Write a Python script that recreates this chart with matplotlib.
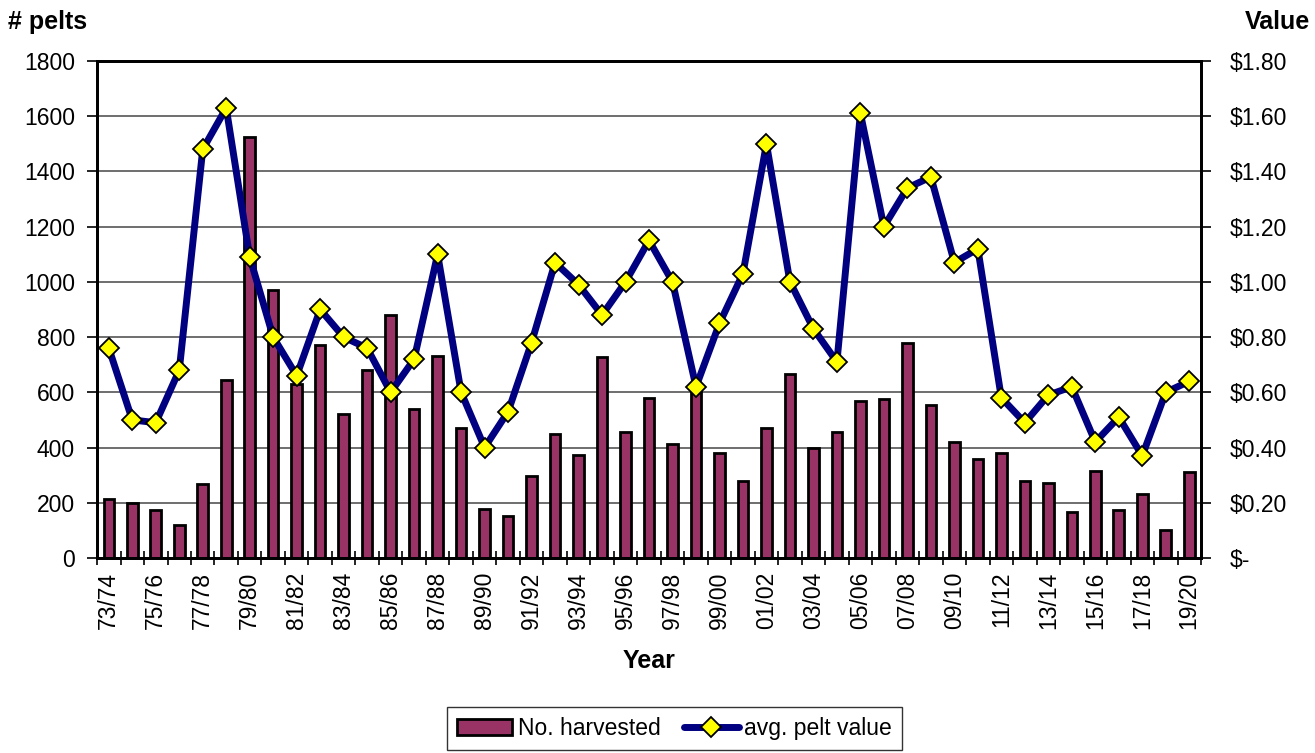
import matplotlib.pyplot as plt
from matplotlib.ticker import FuncFormatter, MultipleLocator
import numpy as np

plt.rcParams['font.family'] = ['Liberation Sans', 'DejaVu Sans']

seasons = ['73/74', '74/75', '75/76', '76/77', '77/78', '78/79', '79/80', '80/81',
           '81/82', '82/83', '83/84', '84/85', '85/86', '86/87', '87/88', '88/89',
           '89/90', '90/91', '91/92', '92/93', '93/94', '94/95', '95/96', '96/97',
           '97/98', '98/99', '99/00', '00/01', '01/02', '02/03', '03/04', '04/05',
           '05/06', '06/07', '07/08', '08/09', '09/10', '10/11', '11/12', '12/13',
           '13/14', '14/15', '15/16', '16/17', '17/18', '18/19', '19/20']

harvested = [215, 200, 175, 118, 268, 645, 1525, 970, 630, 770, 520, 680, 880,
             540, 730, 470, 178, 152, 298, 450, 372, 728, 458, 580, 412, 610,
             380, 280, 472, 668, 400, 458, 570, 575, 780, 555, 420, 360, 380,
             278, 270, 168, 316, 175, 232, 103, 313]

pelt_value = [0.76, 0.50, 0.49, 0.68, 1.48, 1.63, 1.09, 0.80, 0.66, 0.90, 0.80,
              0.76, 0.60, 0.72, 1.10, 0.60, 0.40, 0.53, 0.78, 1.07, 0.99, 0.88,
              1.00, 1.15, 1.00, 0.62, 0.85, 1.03, 1.50, 1.00, 0.83, 0.71, 1.61,
              1.20, 1.34, 1.38, 1.07, 1.12, 0.58, 0.49, 0.59, 0.62, 0.42, 0.51,
              0.37, 0.60, 0.64]

x = np.arange(len(seasons))
fs = 16.5

fig = plt.figure(figsize=(13.15, 7.53), dpi=100)
ax = fig.add_axes([0.0738, 0.259, 0.8395, 0.66])
ax2 = ax.twinx()

bars = ax.bar(x, harvested, width=0.45, color='#993366', edgecolor='black',
              linewidth=2, label='No. harvested', zorder=2)
ax.set_ylim(0, 1800)
ax.set_xlim(-0.5, len(seasons) - 0.5)
ax.yaxis.set_major_locator(MultipleLocator(200))
ax.grid(axis='y', color='#555555', linewidth=1.2, zorder=0)
ax.set_axisbelow(True)

line, = ax2.plot(x, pelt_value, color='#000080', linewidth=5, marker='D',
                 markersize=10, markerfacecolor='#FFFF00', markeredgecolor='black',
                 markeredgewidth=1.3, solid_capstyle='round',
                 label='avg. pelt value', zorder=3)
ax2.set_ylim(0, 1.8)
ax2.yaxis.set_major_locator(MultipleLocator(0.2))
ax2.yaxis.set_major_formatter(FuncFormatter(lambda v, p: '$-' if abs(v) < 1e-9 else f'${v:.2f}'))

# labels on every other season, ticks between categories
ax.set_xticks(x[::2])
ax.set_xticklabels(seasons[::2], rotation=90)
ax.set_xticks(np.arange(-0.5, len(seasons)), minor=True)
ax.tick_params(axis='x', which='major', length=0, labelsize=fs, pad=10)
ax.tick_params(axis='x', which='minor', length=10, width=1.2, direction='inout')
ax.tick_params(axis='y', labelsize=fs, length=7, width=1.2, pad=9)
ax2.tick_params(axis='y', labelsize=fs, length=7, width=1.2, pad=14)

for a in (ax, ax2):
    for s in a.spines.values():
        s.set_linewidth(2)

ax.set_xlabel('Year', fontsize=18, fontweight='bold', labelpad=14)
fig.text(0.006, 0.971, '# pelts', fontsize=18, fontweight='bold', ha='left', va='center')
fig.text(0.996, 0.971, 'Value', fontsize=18, fontweight='bold', ha='right', va='center')

leg = fig.legend([bars, line], ['No. harvested', 'avg. pelt value'], loc='center',
                 bbox_to_anchor=(0.513, 0.0325), ncol=2, fontsize=fs, frameon=True,
                 fancybox=False, edgecolor='black', handlelength=2.4,
                 handletextpad=0.25, columnspacing=1.0, borderpad=0.45)
leg.get_frame().set_linewidth(1.0)

fig.savefig('out.png', dpi=100)
